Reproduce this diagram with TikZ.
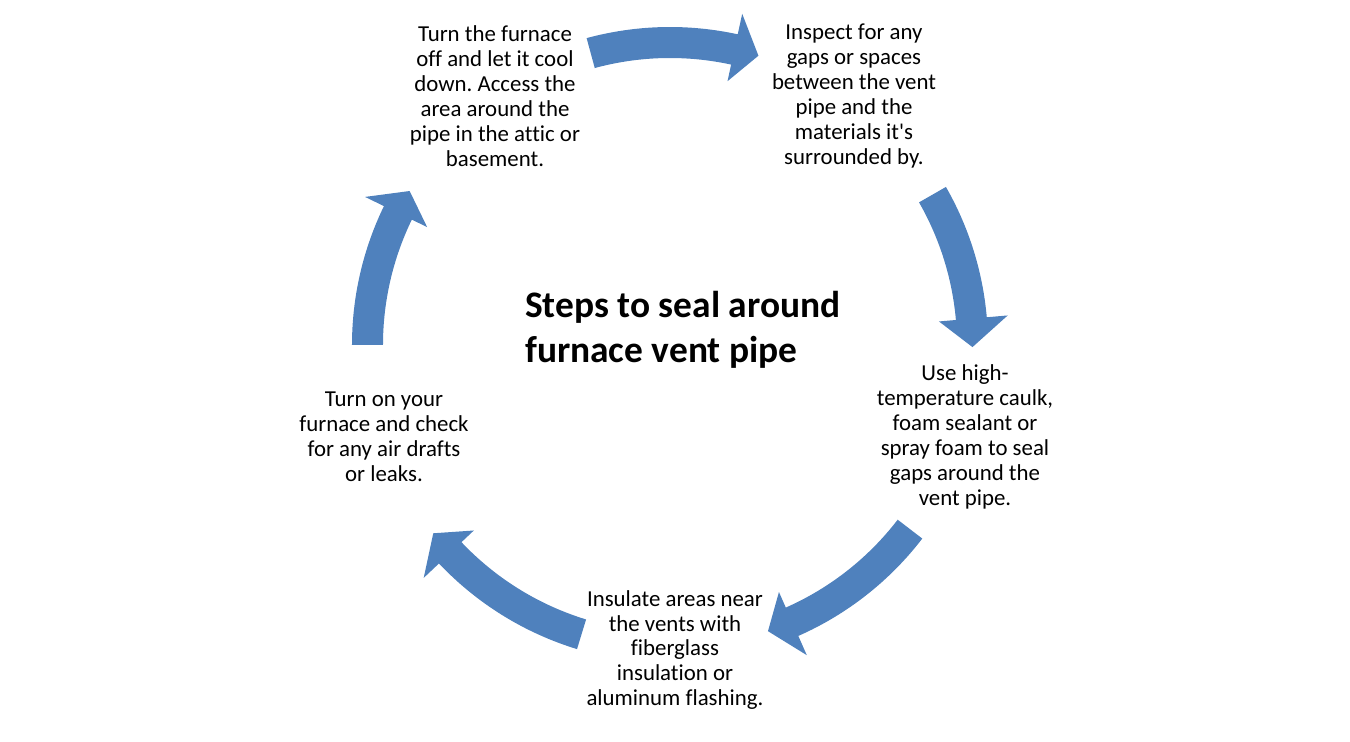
\documentclass[tikz,border=0pt]{standalone}
\usepackage{fontspec}
\setmainfont{Carlito}[Ligatures={NoCommon}]
\usepackage{tikz}
\definecolor{cycleblue}{RGB}{79,129,189}
\frenchspacing

\begin{document}
\begin{tikzpicture}[x=0.02cm, y=0.02cm,
    steptext/.style={align=center, font=\fontsize{13}{14.2}\selectfont},
    arrowfill/.style={fill=cycleblue}]
    % Frame, origin at the middle of the cycle
    \useasboundingbox (-670,-397) rectangle (680,345);
    \coordinate (centre) at (0,0);

    % Title
    \node[align=left, anchor=west, font=\bfseries\fontsize{21.3}{25.5}\selectfont] (title) at (-151,15)
        {Steps to seal around\\furnace vent pipe};

    % Steps round the cycle
    \node[steptext] (cool) at (-175,249) {Turn the furnace\\off and let it cool\\down. Access the\\area around the\\pipe in the attic or\\basement.};
    \node[steptext] (inspect) at (184,249) {Inspect for any\\gaps or spaces\\between the vent\\pipe and the\\materials it\textquotesingle s\\surrounded by.};
    \node[steptext] (caulk) at (295,-92) {Use high-\\temperature caulk,\\foam sealant or\\spray foam to seal\\gaps around the\\vent pipe.};
    \node[steptext] (insulate) at (5,-305) {Insulate areas near\\the vents with\\fiberglass\\insulation or\\aluminum flashing.};
    \node[steptext] (check) at (-286,-92) {Turn on your\\furnace and check\\for any air drafts\\or leaks.};

    % Curved arrows (tail angle, head base angle, tip angle)
    \fill[arrowfill] (105.2:318) arc[start angle=105.2, end angle=77.7, radius=318] -- (77.7:339) -- (73:302.5)
        -- (77.7:270) -- (77.7:287) arc[start angle=77.7, end angle=105.2, radius=287] -- cycle;
    \fill[arrowfill] (29.8:318) arc[start angle=29.8, end angle=5, radius=318] -- (5:339) -- (-0.4:302.5)
        -- (5:270) -- (5:287) arc[start angle=5, end angle=29.8, radius=287] -- cycle;
    \fill[arrowfill] (-37.5:318) arc[start angle=-37.5, end angle=-66.2, radius=318] -- (-66.2:339) -- (-71.1:302.5)
        -- (-66.2:270) -- (-66.2:287) arc[start angle=-66.2, end angle=-37.5, radius=287] -- cycle;
    \fill[arrowfill] (-107:318) arc[start angle=-107, end angle=-136.6, radius=318] -- (-136.6:339) -- (-141.5:302.5)
        -- (-136.6:270) -- (-136.6:287) arc[start angle=-136.6, end angle=-107, radius=287] -- cycle;
    \fill[arrowfill] (180:318) arc[start angle=180, end angle=154.1, radius=318] -- (154.1:339) -- (149.4:302.5)
        -- (154.1:270) -- (154.1:287) arc[start angle=154.1, end angle=180, radius=287] -- cycle;
\end{tikzpicture}
\end{document}
